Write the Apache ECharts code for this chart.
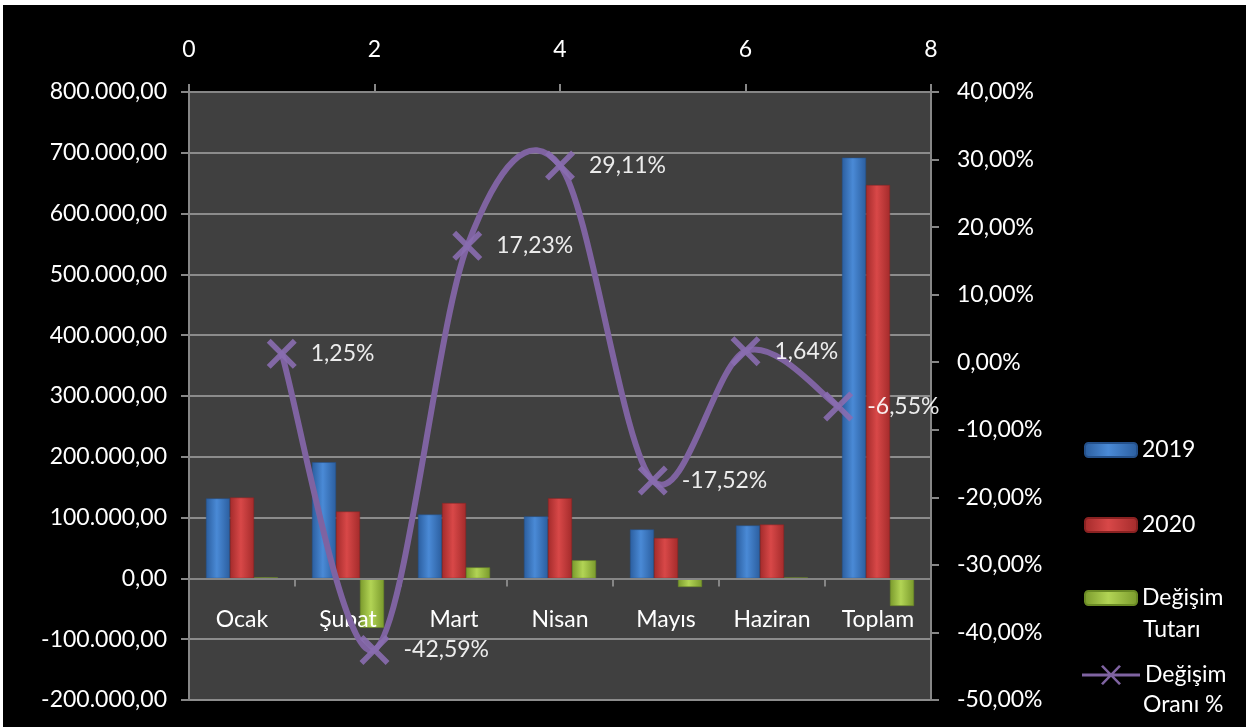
<!DOCTYPE html>
<html>
<head>
<meta charset="utf-8">
<script src="https://cdn.jsdelivr.net/npm/echarts@6/dist/echarts.min.js"></script>
<style>
  html, body { margin: 0; padding: 0; background: #ffffff; }
  #frame { position: absolute; left: 3px; top: 5px; width: 1243px; height: 722px; background: #000; }
  #chart { position: absolute; left: -3px; top: -5px; width: 1250px; height: 727px; }
</style>
</head>
<body>
<div id="frame"><div id="chart"></div></div>
<script>
// ---- data ----
var categories = ['Ocak', 'Şubat', 'Mart', 'Nisan', 'Mayıs', 'Haziran', 'Toplam'];
var values2019 = [131500, 191000, 105000, 102000, 80500, 87000, 692000];
var values2020 = [133000, 110000, 124000, 132000, 66500, 88500, 647000];
var changeAmount = [1600, -81300, 18000, 29700, -14100, 1400, -45300];
var changeRatePct = [1.25, -42.59, 17.23, 29.11, -17.52, 1.64, -6.55];
var ratePositions = [1, 2, 3, 4, 5, 6, 7];
var seriesNames = ['2019', '2020', 'Değişim Tutarı', 'Değişim Oranı %'];

function trNumber(v, dec) {
  var neg = v < 0;
  var s = Math.abs(v).toFixed(dec);
  var parts = s.split('.');
  var intPart = parts[0].replace(/\B(?=(\d{3})+(?!\d))/g, '.');
  return (neg ? '-' : '') + intPart + (dec > 0 ? ',' + parts[1] : '');
}

function barGrad(dark, light) {
  return new echarts.graphic.LinearGradient(0, 0, 1, 0, [
    { offset: 0, color: dark },
    { offset: 0.45, color: light },
    { offset: 1, color: dark }
  ]);
}

var FONT = 'Lato';
var FS = 23;
var LINE_COLOR = '#7f63a1';
var xSymbol = 'path://M0,1.3 L1.3,0 L10,8.7 L8.7,10 Z M8.7,0 L10,1.3 L1.3,10 L0,8.7 Z';
var lineLegendIcon = 'path://M0,8.5 L58,8.5 L58,11.5 L0,11.5 Z M19,1.5 L21,0 L39,18.5 L37,20 Z M37,0 L39,1.5 L21,20 L19,18.5 Z';

var leftMin = -200000, leftMax = 800000;
var gridTop = 92, gridBottom = 27, chartH = 727;

var chart = echarts.init(document.getElementById('chart'), null, { renderer: 'canvas' });

var axisLineStyle = { color: '#868686', width: 2 };
var ratePoints = ratePositions.map(function (x, i) { return [x, changeRatePct[i]]; });

// place the category axis on the zero line of the left value axis
var plotH = chartH - gridTop - gridBottom;
var zeroFromBottom = plotH * (0 - leftMin) / (leftMax - leftMin);

// Excel-like smoothed curve (Catmull-Rom / Bezier), computed from axis coordinates
function renderCurve(params, api) {
  if (params.dataIndex !== 0) return;
  var pts = ratePoints.map(function (p) { return api.coord(p); });
  var n = pts.length;
  var d = 'M' + pts[0][0] + ',' + pts[0][1];
  for (var i = 0; i < n - 1; i++) {
    var p0 = pts[Math.max(i - 1, 0)], p1 = pts[i], p2 = pts[i + 1], p3 = pts[Math.min(i + 2, n - 1)];
    var c1x = p1[0] + (p2[0] - p0[0]) / 6, c1y = p1[1] + (p2[1] - p0[1]) / 6;
    var c2x = p2[0] - (p3[0] - p1[0]) / 6, c2y = p2[1] - (p3[1] - p1[1]) / 6;
    d += ' C' + c1x + ',' + c1y + ' ' + c2x + ',' + c2y + ' ' + p2[0] + ',' + p2[1];
  }
  return {
    type: 'path',
    shape: { pathData: d },
    style: { fill: null, stroke: LINE_COLOR, lineWidth: 6, lineCap: 'round', lineJoin: 'round' }
  };
}

var legendDefs = [
  { name: seriesNames[0], top: 433, w: 52, h: 14 },
  { name: seriesNames[1], top: 508, w: 52, h: 14 },
  { name: seriesNames[2], top: 581, w: 52, h: 14 },
  { name: seriesNames[3], top: 658, w: 58, h: 20, icon: lineLegendIcon, left: 1082 }
];

var option = {
  backgroundColor: 'transparent',
  animation: false,
  textStyle: { fontFamily: FONT },
  grid: {
    left: 189, right: 319, top: gridTop, bottom: gridBottom,
    outerBoundsMode: 'none',
    containLabel: false,
    show: true, backgroundColor: '#404040', borderWidth: 0
  },
  xAxis: [
    {
      type: 'category',
      data: categories,
      position: 'bottom',
      offset: -zeroFromBottom,
      z: 3,
      axisLine: { onZero: false, lineStyle: axisLineStyle },
      axisTick: { show: true, length: 8, lineStyle: axisLineStyle },
      axisLabel: { color: '#ffffff', fontSize: FS, fontFamily: FONT, margin: 30 },
      splitLine: { show: false }
    },
    {
      type: 'value',
      position: 'top',
      min: 0, max: 8, interval: 2,
      axisLine: { show: true, onZero: false, lineStyle: axisLineStyle },
      axisTick: { show: true, length: 8, inside: false, lineStyle: axisLineStyle },
      axisLabel: { color: '#ffffff', fontSize: FS, fontFamily: FONT, margin: 31 },
      splitLine: { show: false }
    }
  ],
  yAxis: [
    {
      type: 'value',
      position: 'left',
      min: leftMin, max: leftMax, interval: 100000,
      axisLine: { show: true, onZero: false, lineStyle: axisLineStyle },
      axisTick: { show: true, length: 8, lineStyle: axisLineStyle },
      axisLabel: {
        color: '#ffffff', fontSize: FS, fontFamily: FONT, margin: 22,
        formatter: function (v) { return trNumber(v, 2); }
      },
      splitLine: { show: true, lineStyle: { color: '#8c8c8c', width: 2 } }
    },
    {
      type: 'value',
      position: 'right',
      min: -50, max: 40, interval: 10,
      axisLine: { show: true, onZero: false, lineStyle: axisLineStyle },
      axisTick: { show: true, length: 8, lineStyle: axisLineStyle },
      axisLabel: {
        color: '#ffffff', fontSize: FS, fontFamily: FONT, margin: 26,
        formatter: function (v) { return trNumber(v, 2) + '%'; }
      },
      splitLine: { show: false }
    }
  ],
  legend: legendDefs.map(function (l) {
    var item = { name: l.name };
    if (l.icon) item.icon = l.icon;
    return {
      data: [item],
      orient: 'vertical',
      left: l.left || 1084,
      top: l.top,
      itemWidth: l.w,
      itemHeight: l.h,
      itemGap: 0,
      padding: 0,
      selectedMode: false,
      formatter: function (name) { return name.split(' ')[0]; },
      textStyle: { color: '#ffffff', fontSize: FS, fontFamily: FONT, lineHeight: 34 }
    };
  }),
  graphic: [
    { type: 'text', left: 1143, top: 618, style: { text: 'Tutarı', fill: '#ffffff', font: FS + 'px ' + FONT } },
    { type: 'text', left: 1143, top: 693, style: { text: 'Oranı %', fill: '#ffffff', font: FS + 'px ' + FONT } }
  ],
  series: [
    {
      name: seriesNames[0], type: 'bar', xAxisIndex: 0, yAxisIndex: 0,
      data: values2019, barWidth: 24, barGap: '0%',
      itemStyle: { color: barGrad('#2b5e9f', '#4a8ad6'), borderColor: '#24508a', borderWidth: 0.5 }
    },
    {
      name: seriesNames[1], type: 'bar', xAxisIndex: 0, yAxisIndex: 0,
      data: values2020, barWidth: 24, barGap: '0%',
      itemStyle: { color: barGrad('#a42b2b', '#d84848'), borderColor: '#8a2222', borderWidth: 0.5 }
    },
    {
      name: seriesNames[2], type: 'bar', xAxisIndex: 0, yAxisIndex: 0,
      data: changeAmount, barWidth: 24, barGap: '0%',
      itemStyle: { color: barGrad('#7a9a2c', '#b2d455'), borderColor: '#6a8a24', borderWidth: 0.5 }
    },
    {
      name: seriesNames[3], type: 'custom', xAxisIndex: 1, yAxisIndex: 1,
      coordinateSystem: 'cartesian2d',
      data: ratePoints,
      encode: { x: 0, y: 1 },
      renderItem: renderCurve,
      itemStyle: { color: LINE_COLOR },
      z: 5,
      silent: true
    },
    {
      name: seriesNames[3], type: 'scatter', xAxisIndex: 1, yAxisIndex: 1,
      data: ratePoints,
      z: 6,
      symbol: xSymbol,
      symbolSize: 30,
      itemStyle: { color: '#8a6db0', opacity: 0.9 },
      label: {
        show: true, position: 'right', distance: 14,
        color: '#ffffff', fontSize: FS, fontFamily: FONT,
        formatter: function (p) { return trNumber(p.value[1], 2) + '%'; }
      }
    }
  ]
};

chart.setOption(option);
</script>
</body>
</html>
